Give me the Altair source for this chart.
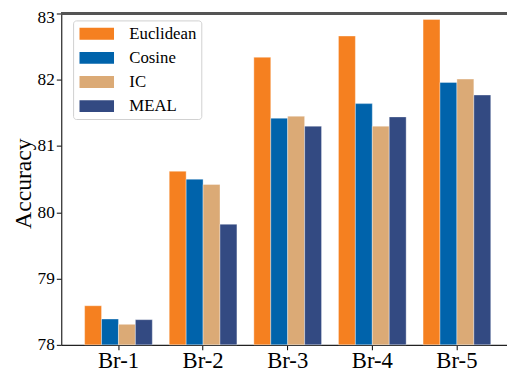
import altair as alt
import pandas as pd

categories = ["Br-1", "Br-2", "Br-3", "Br-4", "Br-5"]
methods = ["Euclidean", "Cosine", "IC", "MEAL"]
euclidean = [78.59, 80.62, 82.34, 82.66, 82.91]
cosine = [78.39, 80.50, 81.42, 81.64, 81.96]
ic = [78.31, 80.42, 81.45, 81.30, 82.01]
meal = [78.38, 79.82, 81.30, 81.44, 81.77]
colors = ["#F58020", "#0063AB", "#DBAA76", "#334A82"]
y_ticks = [78, 79, 80, 81, 82, 83]

series = [euclidean, cosine, ic, meal]
rows = []
for m, vals in zip(methods, series):
    for c, v in zip(categories, vals):
        rows.append({"Branch": c, "Method": m, "Accuracy": v})
df = pd.DataFrame(rows)

W, H = 452, 336
FONT = "Liberation Serif"

bars = alt.Chart(df).mark_bar(stroke="white", strokeWidth=0.6, strokeOpacity=0.6).encode(
    x=alt.X("Branch:N", sort=categories, title=None,
            scale=alt.Scale(paddingInner=0.2, paddingOuter=0.234, align=0.59),
            axis=alt.Axis(labelAngle=0, labelPadding=0, labelFontSize=23)),
    xOffset=alt.XOffset("Method:N", sort=methods),
    y=alt.Y("Accuracy:Q", title="Accuracy",
            scale=alt.Scale(domain=[78, 83], zero=False, nice=False),
            axis=alt.Axis(values=y_ticks, format="d", grid=False, titlePadding=2, labelPadding=2,
                          labelFontSize=17.5, titleY=172,
                          labelOffset=alt.ExprRef("datum.value == 83 ? 4 : 0"))),
    y2=alt.datum(78),
    color=alt.Color("Method:N", sort=methods,
                    scale=alt.Scale(domain=methods, range=colors),
                    legend=alt.Legend(title=None, orient="none", legendX=12, legendY=7,
                                      symbolType="M-1,-0.857L4,-0.857L4,0.857L-1,0.857Z",
                                      symbolSize=196, symbolStrokeWidth=0, symbolOpacity=1,
                                      labelOffset=35, rowPadding=6.5, padding=5,
                                      strokeColor="#d0d0d0", fillColor="white",
                                      cornerRadius=3)),
)

top_line = alt.Chart(df).mark_rule(color="#555555", strokeWidth=1.6).encode(
    x=alt.value(0), x2=alt.value(W), y=alt.value(0)
)

chart = alt.layer(bars, top_line).properties(
    width=W, height=H,
    autosize=alt.AutoSizeParams(type="none"),
    padding={"left": 54, "top": 3, "right": 0, "bottom": 28},
).configure(
    background="white",
).configure_view(
    stroke=None,
).configure_axis(
    labelFont=FONT, labelColor="black",
    tickColor="black", tickSize=5, tickWidth=1, domainColor="#222222", domainWidth=1.2,
    titleFont=FONT, titleFontSize=24, titleFontWeight="normal", titleColor="black",
).configure_legend(
    labelFont=FONT, labelFontSize=17, labelColor="black",
)

chart.save("out.html", embed_options={"renderer": "svg", "actions": False})
